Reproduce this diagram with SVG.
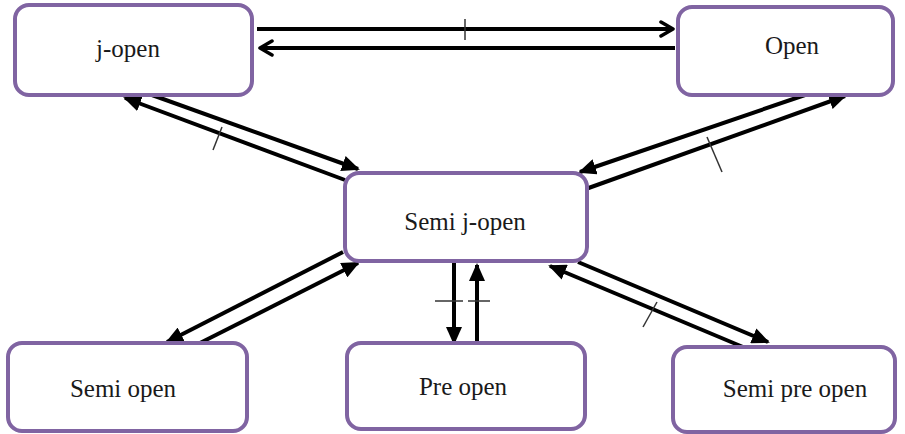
<svg xmlns="http://www.w3.org/2000/svg" width="905" height="434" viewBox="0 0 905 434">
<defs>
<marker id="tri" markerUnits="userSpaceOnUse" markerWidth="20" markerHeight="16" refX="16" refY="8" orient="auto">
<path d="M0,0 L18,8 L0,16 z" fill="#000"/>
</marker>
<marker id="chev" markerUnits="userSpaceOnUse" markerWidth="18" markerHeight="18" refX="14" refY="9" orient="auto">
<path d="M2,2 L14,9 L2,16" fill="none" stroke="#000" stroke-width="3.5" stroke-linecap="round" stroke-linejoin="round"/>
</marker>
</defs>
<style>
.box{fill:#fff;stroke:#8064a2;stroke-width:4}
.lbl{font-family:"Liberation Serif","Times New Roman",serif;font-size:25px;fill:#1a1a1a;text-anchor:middle}
.ar{stroke:#000;stroke-width:4;fill:none}
.tick{stroke:#333;stroke-width:1.5;fill:none}
</style>
<rect width="905" height="434" fill="#fff"/>
<g id="connectors">
<line class="ar" x1="257" y1="29" x2="673" y2="29" marker-end="url(#chev)"/>
<line class="ar" x1="675" y1="48" x2="260" y2="48" marker-end="url(#chev)"/>
<line class="tick" x1="465" y1="19" x2="465" y2="40"/>

<line class="ar" x1="138" y1="90" x2="358" y2="169" marker-end="url(#tri)"/>
<line class="ar" x1="345" y1="180" x2="125" y2="98" marker-end="url(#tri)"/>
<line class="tick" x1="222" y1="127" x2="213" y2="150"/>

<line class="ar" x1="805" y1="95" x2="580" y2="172" marker-end="url(#tri)"/>
<line class="ar" x1="583" y1="190" x2="845" y2="96" marker-end="url(#tri)"/>
<line class="tick" x1="707" y1="137" x2="722" y2="172"/>

<line class="ar" x1="343" y1="252" x2="167" y2="342" marker-end="url(#tri)"/>
<line class="ar" x1="200" y1="343" x2="358" y2="263" marker-end="url(#tri)"/>

<line class="ar" x1="454" y1="262" x2="454" y2="343" marker-end="url(#tri)"/>
<line class="ar" x1="477" y1="343" x2="477" y2="265" marker-end="url(#tri)"/>
<line class="tick" x1="435" y1="301" x2="463" y2="301"/>
<line class="tick" x1="468" y1="301" x2="490" y2="301"/>

<line class="ar" x1="578" y1="262" x2="768" y2="342" marker-end="url(#tri)"/>
<line class="ar" x1="743" y1="347" x2="550" y2="266" marker-end="url(#tri)"/>
<line class="tick" x1="657" y1="302" x2="643" y2="327"/>
</g>
<g id="j-open">
<rect class="box" x="15" y="5" width="237" height="90" rx="14"/>
<text class="lbl" x="128" y="57">j-open</text>
</g>
<g id="open">
<rect class="box" x="678" y="7" width="215" height="88" rx="14"/>
<text class="lbl" x="792" y="54">Open</text>
</g>
<g id="semi-j-open">
<rect class="box" x="345" y="173" width="242" height="88" rx="14"/>
<text class="lbl" x="465" y="230">Semi j-open</text>
</g>
<g id="semi-open">
<rect class="box" x="8" y="343" width="239" height="88" rx="14"/>
<text class="lbl" x="123" y="397">Semi open</text>
</g>
<g id="pre-open">
<rect class="box" x="347" y="343" width="238" height="86" rx="14"/>
<text class="lbl" x="463" y="395">Pre open</text>
</g>
<g id="semi-pre-open">
<rect class="box" x="673" y="347" width="222" height="85" rx="14"/>
<text class="lbl" x="795" y="397">Semi pre open</text>
</g>
</svg>
